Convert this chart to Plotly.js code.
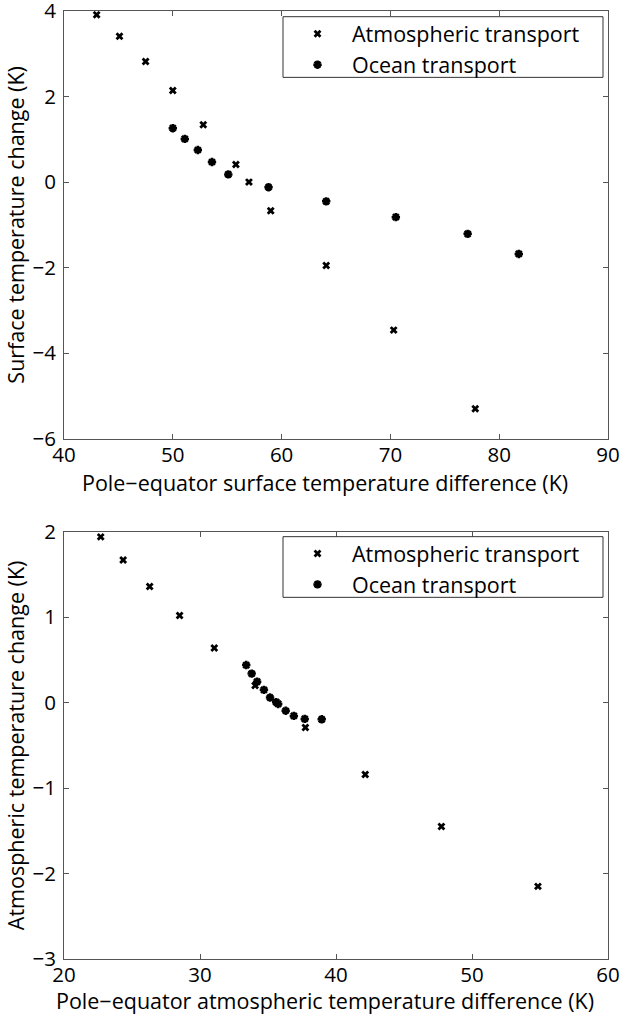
<!DOCTYPE html>
<html>
<head>
<meta charset="utf-8">
<script src="https://cdn.plot.ly/plotly-3.0.1.min.js"></script>
<style>html,body{margin:0;padding:0;background:#fff;}#chart{width:627px;height:1016px;}</style>
</head>
<body>
<div id="chart"></div>
<script>
// Top panel: surface temperature
var surfAtmX = [43.0, 45.1, 47.5, 50.0, 52.8, 55.8, 57.0, 59.0, 64.1, 70.3, 77.8];
var surfAtmY = [3.91, 3.41, 2.82, 2.14, 1.34, 0.41, 0.00, -0.67, -1.95, -3.46, -5.30];
var surfOcnX = [50.0, 51.1, 52.3, 53.6, 55.1, 58.8, 64.1, 70.5, 77.1, 81.8];
var surfOcnY = [1.26, 1.01, 0.75, 0.47, 0.18, -0.12, -0.45, -0.82, -1.21, -1.68];
// Bottom panel: atmospheric temperature
var atmAtmX = [22.7, 24.35, 26.3, 28.5, 31.05, 34.05, 37.75, 42.15, 47.75, 54.85];
var atmAtmY = [1.94, 1.67, 1.36, 1.02, 0.64, 0.20, -0.29, -0.84, -1.45, -2.15];
var atmOcnX = [33.4, 33.8, 34.2, 34.7, 35.15, 35.6, 35.75, 36.3, 36.9, 37.7, 38.95];
var atmOcnY = [0.44, 0.34, 0.245, 0.15, 0.06, 0.005, -0.015, -0.095, -0.155, -0.19, -0.195];

var seriesNames = ['Atmospheric transport', 'Ocean transport'];
var topXTicks = [40, 50, 60, 70, 80, 90];
var topYTicks = [-6, -4, -2, 0, 2, 4];
var botXTicks = [20, 30, 40, 50, 60];
var botYTicks = [-3, -2, -1, 0, 1, 2];
var topXTitle = 'Pole\u2212equator surface temperature difference (K)';
var topYTitle = 'Surface temperature change (K)';
var botXTitle = 'Pole\u2212equator atmospheric temperature difference (K)';
var botYTitle = 'Atmospheric temperature change (K)';

var FONT = 'Open Sans, Noto Sans, sans-serif';
var atmMarker = {symbol: 'x', size: 7, color: '#000'};
var ocnMarker = {symbol: 'asterisk-open', size: 7, color: '#000', line: {color: '#000', width: 2.5}};

var traces = [
  {x: surfAtmX, y: surfAtmY, mode: 'markers', name: seriesNames[0], marker: atmMarker, xaxis: 'x', yaxis: 'y', legend: 'legend'},
  {x: surfOcnX, y: surfOcnY, mode: 'markers', name: seriesNames[1], marker: ocnMarker, xaxis: 'x', yaxis: 'y', legend: 'legend'},
  {x: atmAtmX, y: atmAtmY, mode: 'markers', name: seriesNames[0], marker: atmMarker, xaxis: 'x2', yaxis: 'y2', legend: 'legend2'},
  {x: atmOcnX, y: atmOcnY, mode: 'markers', name: seriesNames[1], marker: ocnMarker, xaxis: 'x2', yaxis: 'y2', legend: 'legend2'}
];

function ax(extra) {
  var base = {
    showline: true, linecolor: '#555', linewidth: 1, mirror: 'ticks',
    ticks: 'inside', ticklen: 5, tickcolor: '#555', tickwidth: 1,
    showgrid: false, zeroline: false, ticklabeloverflow: 'allow',
    tickfont: {family: FONT, size: 20.5, color: '#000'},
    tickmode: 'array', fixedrange: true
  };
  for (var k in extra) base[k] = extra[k];
  return base;
}

var legendCommon = {
  font: {family: FONT, size: 21.5, color: '#000'},
  borderwidth: 0, bgcolor: 'rgba(0,0,0,0)',
  xanchor: 'left', yanchor: 'top', itemwidth: 59, tracegroupgap: 0
};
function leg(extra) { var o = {}; for (var k in legendCommon) o[k] = legendCommon[k]; for (var j in extra) o[j] = extra[j]; return o; }

var boxStyle = {type: 'rect', xref: 'paper', yref: 'paper', layer: 'above',
  line: {color: '#333', width: 1}, fillcolor: '#fff'};
function box(x0, x1, y0, y1) { var o = {}; for (var k in boxStyle) o[k] = boxStyle[k]; o.x0 = x0; o.x1 = x1; o.y0 = y0; o.y1 = y1; return o; }

var titleFont = {family: FONT, size: 21.5, color: '#000'};
function xTitle(text, y) {
  return {text: text, xref: 'paper', yref: 'paper', x: 0.48, y: y, xanchor: 'center', yanchor: 'middle',
    showarrow: false, borderpad: 0, font: titleFont};
}
var layout = {
  width: 627, height: 1016,
  margin: {l: 64, r: 19, t: 11, b: 57},
  paper_bgcolor: '#fff', plot_bgcolor: '#fff',
  showlegend: true,
  xaxis: ax({domain: [0, 1], range: [40, 90], tickvals: topXTicks, anchor: 'y', ticklabelstandoff: -2}),
  yaxis: ax({domain: [0.5488, 1], range: [-6, 4], tickvals: topYTicks, anchor: 'x', ticklabelstandoff: 3,
    title: {text: topYTitle, font: titleFont, standoff: 1}}),
  xaxis2: ax({domain: [0, 1], range: [20, 60], tickvals: botXTicks, anchor: 'y2', ticklabelstandoff: -3}),
  yaxis2: ax({domain: [0, 0.4507], range: [-3, 2], tickvals: botYTicks, anchor: 'x2', ticklabelstandoff: 3,
    title: {text: botYTitle, font: titleFont, standoff: 1}}),
  annotations: [xTitle(topXTitle, 0.5026), xTitle(botXTitle, -0.0443)],
  shapes: [box(0.4026, 0.9908, 0.9300, 0.9940), box(0.4026, 0.9908, 0.3815, 0.4455)],
  legend: leg({x: 0.4026, y: 0.9976}),
  legend2: leg({x: 0.4026, y: 0.4494})
};

Plotly.newPlot('chart', traces, layout, {displayModeBar: false, staticPlot: true});
</script>
</body>
</html>
